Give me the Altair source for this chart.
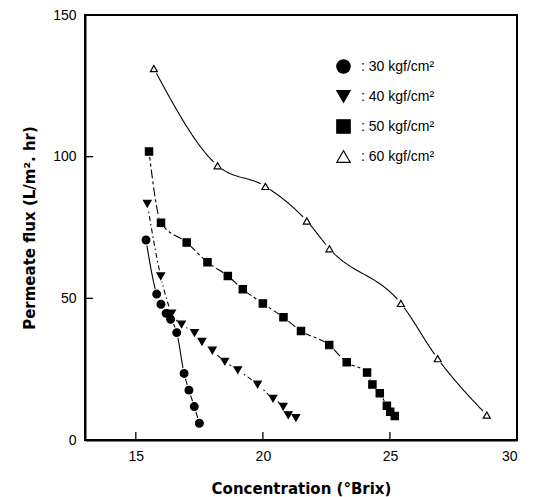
import altair as alt
import pandas as pd

series_names = [": 30 kgf/cm²", ": 40 kgf/cm²", ": 50 kgf/cm²", ": 60 kgf/cm²"]

conc_30 = [15.40, 15.82, 15.99, 16.19, 16.37, 16.61, 16.90, 17.09, 17.30, 17.50]
flux_30 = [70.6, 51.5, 47.9, 44.7, 42.6, 37.9, 23.5, 17.6, 11.8, 5.9]

conc_40 = [15.45, 15.98, 16.41, 16.80, 17.31, 17.60, 18.01, 18.50, 19.01, 19.79, 20.40, 20.80, 21.00, 21.30]
flux_40 = [83.4, 57.8, 44.7, 40.8, 37.8, 34.7, 31.6, 27.7, 24.7, 19.6, 14.6, 11.8, 8.8, 7.8]

conc_50 = [15.52, 15.99, 17.00, 17.82, 18.62, 19.21, 20.00, 20.81, 21.50, 22.61, 23.30, 24.10, 24.31, 24.60, 24.88, 25.01, 25.19]
flux_50 = [101.8, 76.7, 69.7, 62.7, 57.9, 53.2, 48.2, 43.3, 38.5, 33.5, 27.4, 23.8, 19.6, 16.5, 12.1, 10.0, 8.5]

conc_60 = [15.71, 18.22, 20.10, 21.73, 22.62, 25.43, 26.88, 28.81]
flux_60 = [131.1, 96.8, 89.5, 77.3, 67.5, 48.2, 28.7, 8.8]

x_tick_values = [15, 20, 25, 30]
y_tick_values = [0, 50, 100, 150]
x_inner_ticks = [15, 20, 25]
y_inner_ticks = [50, 100]
x_domain = [13, 30]
y_domain = [0, 150]

group_keys = ["p30", "p40", "p50", "p60"]

rows = []
for name, key, xs, ys in zip(series_names, group_keys, [conc_30, conc_40, conc_50, conc_60],
                             [flux_30, flux_40, flux_50, flux_60]):
    for i, (xv, yv) in enumerate(zip(xs, ys)):
        rows.append({"series": name, "grp": key, "conc": xv, "flux": yv, "order": i})
df = pd.DataFrame(rows)

xscale = alt.Scale(domain=x_domain, nice=False, zero=False)
yscale = alt.Scale(domain=y_domain, nice=False, zero=True)

x_axis = alt.Axis(values=x_tick_values, title="Concentration (°Brix)", grid=False,
                  ticks=False, labelPadding=9, titlePadding=18,
                  labelFont="Liberation Sans", labelFontSize=14, labelColor="black",
                  titleFont="DejaVu Sans", titleFontSize=15, titleFontWeight="bold",
                  titleColor="black", domainColor="black", domainWidth=2)
y_axis = alt.Axis(values=y_tick_values, title="Permeate flux (L/m². hr)", grid=False,
                  ticks=False, labelPadding=9, titlePadding=15,
                  labelFont="Liberation Sans", labelFontSize=14, labelColor="black",
                  titleFont="DejaVu Sans", titleFontSize=15, titleFontWeight="bold",
                  titleColor="black", domainColor="black", domainWidth=2)

base = alt.Chart(df).encode(
    x=alt.X("conc:Q", scale=xscale, axis=x_axis),
    y=alt.Y("flux:Q", scale=yscale, axis=y_axis),
)

dash_scale = alt.Scale(domain=group_keys,
                       range=[[1, 0], [5, 3, 1.5, 3], [9, 3, 3, 3], [1, 0]])
shape_scale = alt.Scale(domain=series_names,
                        range=["circle", "triangle-down", "square", "triangle-up"])
fill_scale = alt.Scale(domain=series_names, range=["black", "black", "black", "white"])
stroke_scale = alt.Scale(domain=series_names, range=["black", "black", "black", "black"])
size_scale = alt.Scale(domain=group_keys, range=[60, 50, 38, 60])
halo_scale = alt.Scale(domain=group_keys, range=[130, 120, 100, 240])

lines = base.mark_line(interpolate="monotone", color="black", strokeWidth=1.1).encode(
    detail="grp:N",
    strokeDash=alt.StrokeDash("grp:N", scale=dash_scale, legend=None),
    order="order:Q",
)

halo = base.mark_circle(color="white", opacity=1).encode(
    size=alt.Size("grp:N", scale=halo_scale, legend=None),
)

legend = alt.Legend(title=None, orient="none", legendX=251, legendY=44,
                    symbolSize=180, symbolStrokeWidth=1.2,
                    labelFont="Liberation Sans", labelFontSize=14, labelColor="black",
                    rowPadding=12, labelOffset=10, padding=0)

points = base.mark_point(strokeWidth=1.2, opacity=1, fillOpacity=1, strokeOpacity=1).encode(
    shape=alt.Shape("series:N", scale=shape_scale, legend=legend),
    fill=alt.Fill("series:N", scale=fill_scale, legend=legend),
    stroke=alt.Stroke("series:N", scale=stroke_scale, legend=legend),
    size=alt.Size("grp:N", scale=size_scale, legend=None),
)

edge_df = pd.DataFrame({
    "xa": [x_domain[0], x_domain[1]],
    "xb": [x_domain[1], x_domain[1]],
    "ya": [y_domain[1], y_domain[0]],
    "yb": [y_domain[1], y_domain[1]],
})
edges = alt.Chart(edge_df).mark_rule(color="black", strokeWidth=2, opacity=1).encode(
    x=alt.X("xa:Q", scale=xscale), x2="xb:Q",
    y=alt.Y("ya:Q", scale=yscale), y2="yb:Q",
)

xt_df = pd.DataFrame({"t": x_inner_ticks, "lo": [0.0] * len(x_inner_ticks), "hi": [2.8] * len(x_inner_ticks)})
xt = alt.Chart(xt_df).mark_rule(color="black", strokeWidth=1.3).encode(
    x=alt.X("t:Q", scale=xscale),
    y=alt.Y("lo:Q", scale=yscale),
    y2="hi:Q",
)
yt_df = pd.DataFrame({"t": y_inner_ticks, "lo": [13.0] * len(y_inner_ticks), "hi": [13.32] * len(y_inner_ticks)})
yt = alt.Chart(yt_df).mark_rule(color="black", strokeWidth=1.3).encode(
    y=alt.Y("t:Q", scale=yscale),
    x=alt.X("lo:Q", scale=xscale),
    x2="hi:Q",
)

chart = alt.layer(lines, halo, points, edges, xt, yt).resolve_scale(
    size="independent"
).properties(
    width=432, height=425,
    autosize=alt.AutoSizeParams(type="none"),
    padding={"left": 77, "top": 7, "right": 13, "bottom": 62},
).configure(background="white").configure_view(stroke="black", strokeWidth=2)

chart.save("out.html", embed_options={"renderer": "svg", "actions": False})
